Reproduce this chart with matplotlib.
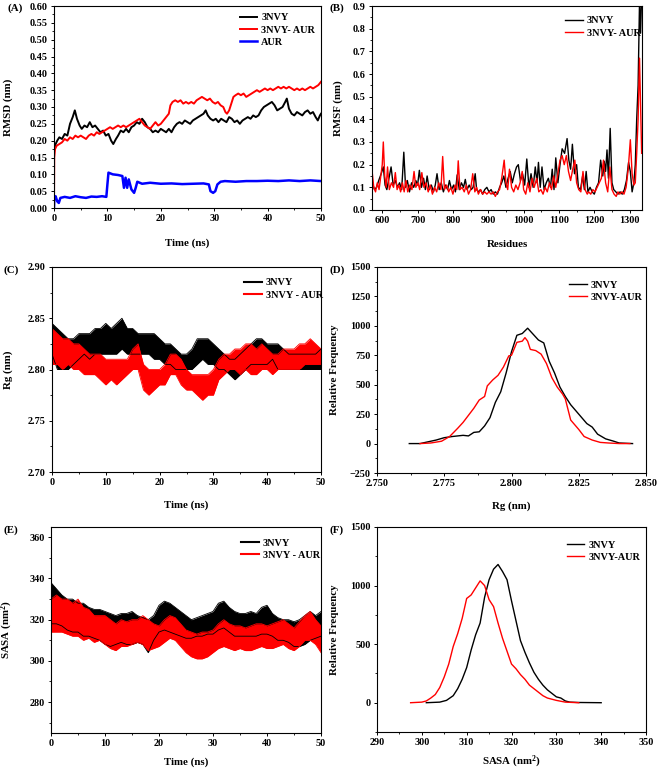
import numpy as np
import matplotlib
matplotlib.use("Agg")
import matplotlib.pyplot as plt
from matplotlib.ticker import AutoMinorLocator, MultipleLocator, FormatStrFormatter

plt.rcParams['font.family'] = ['Liberation Serif', 'DejaVu Serif']
plt.rcParams['font.weight'] = 'bold'
plt.rcParams['axes.labelweight'] = 'bold'
plt.rcParams['mathtext.fontset'] = 'custom'
plt.rcParams['mathtext.bf'] = 'Liberation Serif:bold'

# ---------------- (A) RMSD ----------------
t_rmsd_prot = [0, 0.3, 0.6, 1, 1.5, 2, 2.5, 3, 3.5, 3.9, 4.3, 4.8, 5.2, 5.7, 6.2, 6.7, 7.2, 7.7, 8.2, 8.7,
               9.2, 9.7, 10.2, 10.7, 11.1, 11.6, 12, 12.5, 13, 13.5, 14, 14.5, 15, 15.5, 16, 16.5, 17, 17.5,
               18, 18.5, 19, 19.5, 20, 20.5, 21, 21.5, 22, 22.5, 23, 23.5, 24, 24.5, 25, 25.5, 26, 26.5,
               27, 27.5, 28, 28.4, 28.8, 29.3, 29.8, 30.3, 30.8, 31.3, 31.8, 32.3, 32.8, 33.3, 33.8, 34.3,
               34.8, 35.3, 35.8, 36.3, 36.8, 37.3, 37.8, 38.3, 38.8, 39.3, 39.8, 40.3, 40.8, 41.3, 41.8,
               42.3, 42.8, 43.3, 43.6, 44, 44.5, 45, 45.5, 46, 46.5, 47, 47.5, 48, 48.5, 49, 49.4, 49.8, 50]
rmsd_prot = [0.17, 0.19, 0.20, 0.21, 0.205, 0.22, 0.215, 0.25, 0.27, 0.29, 0.265, 0.245, 0.235, 0.245, 0.24,
             0.255, 0.24, 0.245, 0.235, 0.225, 0.23, 0.215, 0.22, 0.20, 0.19, 0.205, 0.215, 0.23, 0.225,
             0.235, 0.225, 0.24, 0.245, 0.255, 0.25, 0.265, 0.255, 0.24, 0.235, 0.225, 0.23, 0.225, 0.235,
             0.23, 0.225, 0.235, 0.225, 0.24, 0.25, 0.255, 0.25, 0.26, 0.255, 0.25, 0.26, 0.265, 0.27,
             0.275, 0.28, 0.29, 0.275, 0.265, 0.26, 0.265, 0.255, 0.265, 0.26, 0.255, 0.27, 0.265, 0.255,
             0.26, 0.25, 0.26, 0.265, 0.27, 0.265, 0.275, 0.27, 0.275, 0.29, 0.30, 0.305, 0.31, 0.315,
             0.305, 0.29, 0.295, 0.30, 0.315, 0.325, 0.295, 0.28, 0.275, 0.285, 0.28, 0.275, 0.285, 0.29,
             0.28, 0.285, 0.27, 0.26, 0.275, 0.28]

t_rmsd_cplx = [0, 0.05, 0.2, 0.5, 1, 1.5, 2, 2.5, 3, 3.5, 4, 4.5, 5, 5.5, 6, 6.5, 7, 7.5, 8, 8.5, 9, 9.5,
               10, 10.5, 11, 11.5, 12, 12.5, 13, 13.5, 14, 14.5, 15, 15.5, 16, 16.5, 17, 17.5, 18, 18.5,
               19, 19.5, 20, 20.5, 21, 21.5, 21.8, 22.2, 22.7, 23.2, 23.7, 24.2, 24.7, 25.2, 25.7, 26.2,
               26.7, 27.2, 27.7, 28.2, 28.7, 29.2, 29.7, 30.2, 30.7, 31.2, 31.7, 32.1, 32.4, 32.8, 33.2,
               33.6, 34, 34.5, 35, 35.5, 36, 36.5, 37, 37.5, 38, 38.5, 39, 39.5, 40, 40.5, 41, 41.5, 42,
               42.5, 43, 43.5, 44, 44.5, 45, 45.5, 46, 46.5, 47, 47.5, 48, 48.5, 49, 49.5, 50]
rmsd_cplx = [0.0, 0.15, 0.175, 0.185, 0.19, 0.195, 0.205, 0.20, 0.21, 0.205, 0.215, 0.21, 0.215, 0.21,
             0.205, 0.215, 0.22, 0.215, 0.225, 0.22, 0.225, 0.23, 0.235, 0.24, 0.235, 0.24, 0.245, 0.24,
             0.245, 0.24, 0.245, 0.25, 0.255, 0.26, 0.265, 0.255, 0.245, 0.24, 0.235, 0.245, 0.255, 0.245,
             0.25, 0.26, 0.27, 0.28, 0.305, 0.315, 0.32, 0.315, 0.32, 0.31, 0.315, 0.31, 0.315, 0.31,
             0.32, 0.325, 0.33, 0.325, 0.32, 0.325, 0.315, 0.31, 0.315, 0.305, 0.30, 0.285, 0.28, 0.29,
             0.31, 0.33, 0.335, 0.34, 0.335, 0.34, 0.33, 0.335, 0.34, 0.345, 0.35, 0.345, 0.35, 0.355,
             0.35, 0.355, 0.35, 0.355, 0.36, 0.355, 0.36, 0.355, 0.36, 0.355, 0.35, 0.355, 0.35, 0.355,
             0.35, 0.355, 0.36, 0.355, 0.36, 0.365, 0.375]

t_rmsd_lig = [0, 0.05, 0.3, 0.6, 0.9, 1.2, 2, 3, 4, 5, 6, 7, 8, 9, 9.8, 10, 10.2, 11, 12, 12.8, 13.1, 13.4,
              13.7, 14, 14.5, 15, 15.3, 15.6, 16.5, 18, 20, 22, 24, 26, 28, 29, 29.3, 29.8, 30.2, 30.6,
              31.2, 32, 34, 36, 38, 40, 42, 44, 46, 48, 50]
rmsd_lig = [0.0, 0.025, 0.035, 0.02, 0.015, 0.03, 0.033, 0.03, 0.035, 0.032, 0.03, 0.034, 0.033, 0.035,
            0.033, 0.07, 0.105, 0.10, 0.098, 0.095, 0.06, 0.09, 0.06, 0.085, 0.055, 0.045, 0.06, 0.078,
            0.072, 0.075, 0.072, 0.073, 0.071, 0.072, 0.073, 0.07, 0.05, 0.045, 0.05, 0.07, 0.078, 0.08,
            0.078, 0.08, 0.08, 0.081, 0.08, 0.082, 0.08, 0.082, 0.08]

# ---------------- (B) RMSF ----------------
res_prot = [572, 578, 584, 590, 597, 603, 608, 613, 619, 625, 631, 637, 643, 649, 655, 661, 666, 671, 677,
            683, 689, 695, 700, 705, 711, 717, 722, 727, 733, 739, 745, 750, 755, 761, 767, 773, 779, 785,
            790, 796, 802, 807, 812, 818, 824, 830, 835, 840, 846, 852, 857, 863, 867, 872, 878, 884, 890,
            896, 902, 908, 914, 920, 926, 932, 938, 944, 950, 956, 962, 968, 974, 980, 985, 991, 997, 1003,
            1009, 1015, 1021, 1027, 1033, 1038, 1042, 1047, 1052, 1058, 1064, 1070, 1076, 1081, 1086, 1091,
            1097, 1103, 1109, 1116, 1123, 1128, 1133, 1138, 1144, 1150, 1155, 1161, 1167, 1172, 1177, 1182,
            1188, 1194, 1200, 1206, 1212, 1218, 1224, 1228, 1232, 1236, 1240, 1245, 1250, 1255, 1261, 1267,
            1273, 1279, 1285, 1291, 1297, 1302, 1307, 1312, 1316, 1320, 1324, 1328, 1331, 1334]
rmsf_prot = [0.12, 0.09, 0.10, 0.13, 0.16, 0.19, 0.11, 0.09, 0.14, 0.19, 0.11, 0.13, 0.10, 0.12, 0.09,
             0.255, 0.10, 0.13, 0.08, 0.12, 0.10, 0.13, 0.11, 0.175, 0.10, 0.14, 0.09, 0.15, 0.09, 0.11,
             0.08, 0.11, 0.16, 0.09, 0.12, 0.08, 0.11, 0.09, 0.13, 0.09, 0.11, 0.08, 0.155, 0.09, 0.12,
             0.10, 0.135, 0.09, 0.11, 0.09, 0.10, 0.16, 0.09, 0.08, 0.09, 0.07, 0.09, 0.10, 0.08, 0.09,
             0.07, 0.08, 0.07, 0.10, 0.12, 0.15, 0.10, 0.14, 0.17, 0.12, 0.16, 0.19, 0.20, 0.13, 0.16,
             0.11, 0.225, 0.10, 0.16, 0.10, 0.19, 0.12, 0.21, 0.10, 0.19, 0.09, 0.12, 0.14, 0.10, 0.18,
             0.09, 0.23, 0.12, 0.20, 0.27, 0.25, 0.315, 0.22, 0.18, 0.29, 0.16, 0.20, 0.10, 0.09, 0.15,
             0.09, 0.17, 0.08, 0.10, 0.08, 0.07, 0.10, 0.12, 0.22, 0.15, 0.215, 0.17, 0.265, 0.14, 0.36,
             0.12, 0.09, 0.08, 0.07, 0.08, 0.07, 0.09, 0.13, 0.21, 0.17, 0.08, 0.12, 0.20, 0.40, 0.55,
             0.92, 0.78, 0.95]

res_cplx = [572, 576, 581, 586, 591, 595, 600, 603, 607, 611, 615, 620, 626, 632, 637, 642, 647, 652, 657,
            662, 667, 672, 678, 684, 690, 695, 701, 706, 712, 718, 724, 730, 736, 742, 748, 754, 760, 766,
            771, 776, 782, 788, 794, 800, 806, 811, 815, 820, 826, 832, 838, 844, 850, 856, 862, 867, 872,
            878, 884, 890, 896, 902, 908, 914, 920, 926, 932, 938, 945, 950, 955, 960, 966, 972, 978, 984,
            990, 996, 1000, 1006, 1012, 1018, 1024, 1030, 1037, 1043, 1049, 1055, 1061, 1067, 1073, 1079,
            1085, 1091, 1097, 1103, 1109, 1115, 1121, 1127, 1133, 1139, 1145, 1150, 1156, 1162, 1168, 1174,
            1180, 1184, 1190, 1196, 1202, 1208, 1214, 1220, 1226, 1232, 1238, 1244, 1250, 1256, 1262, 1267,
            1272, 1278, 1284, 1290, 1296, 1302, 1307, 1312, 1316, 1320, 1324, 1328, 1331, 1334]
rmsf_cplx = [0.16, 0.10, 0.08, 0.12, 0.09, 0.14, 0.20, 0.30, 0.15, 0.10, 0.19, 0.09, 0.12, 0.10, 0.165,
             0.09, 0.11, 0.08, 0.12, 0.08, 0.13, 0.08, 0.11, 0.09, 0.17, 0.10, 0.12, 0.09, 0.165, 0.10,
             0.12, 0.08, 0.11, 0.07, 0.10, 0.08, 0.12, 0.09, 0.236, 0.09, 0.11, 0.08, 0.10, 0.07, 0.11,
             0.09, 0.217, 0.09, 0.10, 0.08, 0.11, 0.07, 0.09, 0.16, 0.08, 0.10, 0.07, 0.09, 0.07, 0.08,
             0.07, 0.08, 0.07, 0.08, 0.06, 0.08, 0.09, 0.14, 0.22, 0.12, 0.09, 0.18, 0.10, 0.08, 0.11,
             0.09, 0.12, 0.17, 0.09, 0.07, 0.12, 0.08, 0.14, 0.10, 0.14, 0.08, 0.09, 0.07, 0.10, 0.08,
             0.12, 0.09, 0.15, 0.10, 0.16, 0.22, 0.24, 0.20, 0.24, 0.17, 0.13, 0.18, 0.22, 0.12, 0.09,
             0.08, 0.17, 0.09, 0.07, 0.08, 0.07, 0.09, 0.08, 0.10, 0.12, 0.14, 0.22, 0.12, 0.08, 0.19,
             0.09, 0.07, 0.06, 0.08, 0.07, 0.08, 0.07, 0.10, 0.18, 0.31, 0.16, 0.11, 0.12, 0.25, 0.40,
             0.67, 0.45, 0.25]

# ---------------- (C) Rg vs time (band limits, 1 ns) ----------------
t_ns = list(range(0, 51))
rg_prot_lo = [2.815, 2.80, 2.80, 2.80, 2.805, 2.81, 2.815, 2.81, 2.815, 2.815, 2.815, 2.815, 2.815, 2.82,
              2.815, 2.815, 2.815, 2.815, 2.815, 2.81, 2.81, 2.805, 2.805, 2.80, 2.80, 2.80, 2.80, 2.805,
              2.81, 2.805, 2.805, 2.80, 2.80, 2.795, 2.79, 2.795, 2.80, 2.805, 2.805, 2.805, 2.805, 2.81,
              2.80, 2.80, 2.80, 2.80, 2.80, 2.80, 2.80, 2.80, 2.80]
rg_prot_hi = [2.845, 2.84, 2.835, 2.83, 2.83, 2.835, 2.835, 2.835, 2.84, 2.84, 2.845, 2.84, 2.845, 2.85,
              2.84, 2.84, 2.835, 2.835, 2.835, 2.835, 2.83, 2.825, 2.825, 2.82, 2.815, 2.815, 2.82, 2.83,
              2.83, 2.83, 2.825, 2.82, 2.815, 2.81, 2.81, 2.815, 2.82, 2.825, 2.83, 2.83, 2.825, 2.825,
              2.825, 2.82, 2.815, 2.815, 2.815, 2.815, 2.815, 2.815, 2.82]
rg_cplx_lo = [2.805, 2.805, 2.80, 2.805, 2.80, 2.80, 2.795, 2.795, 2.795, 2.79, 2.785, 2.79, 2.785, 2.79,
              2.795, 2.80, 2.80, 2.78, 2.775, 2.78, 2.785, 2.785, 2.795, 2.795, 2.785, 2.78, 2.78, 2.775,
              2.77, 2.775, 2.775, 2.79, 2.795, 2.80, 2.80, 2.795, 2.80, 2.795, 2.795, 2.80, 2.80, 2.795,
              2.80, 2.80, 2.80, 2.80, 2.80, 2.805, 2.805, 2.805, 2.805]
rg_cplx_hi = [2.84, 2.835, 2.83, 2.83, 2.825, 2.825, 2.82, 2.815, 2.815, 2.815, 2.81, 2.81, 2.81, 2.81,
              2.81, 2.82, 2.825, 2.805, 2.80, 2.80, 2.80, 2.805, 2.815, 2.815, 2.81, 2.80, 2.795, 2.795,
              2.795, 2.795, 2.80, 2.81, 2.815, 2.815, 2.82, 2.82, 2.825, 2.825, 2.82, 2.825, 2.82, 2.815,
              2.815, 2.82, 2.82, 2.82, 2.825, 2.825, 2.83, 2.825, 2.82]

# ---------------- (D) Rg distribution ----------------
rg_bins_prot = [2.762, 2.766, 2.770, 2.772, 2.775, 2.778, 2.780, 2.782, 2.784, 2.786, 2.788, 2.790, 2.792,
                2.794, 2.796, 2.798, 2.800, 2.802, 2.804, 2.806, 2.808, 2.810, 2.812, 2.814, 2.816, 2.818,
                2.820, 2.822, 2.825, 2.828, 2.830, 2.832, 2.835, 2.838, 2.840, 2.845]
rg_freq_prot = [0, 0, 20, 30, 50, 60, 65, 70, 65, 95, 100, 150, 220, 350, 440, 600, 780, 920, 935, 980,
                930, 880, 855, 700, 600, 480, 400, 330, 250, 170, 140, 80, 40, 20, 5, 0]
rg_bins_cplx = [2.766, 2.770, 2.774, 2.777, 2.780, 2.782, 2.784, 2.786, 2.788, 2.790, 2.791, 2.793, 2.795,
                2.797, 2.799, 2.800, 2.802, 2.804, 2.805, 2.806, 2.807, 2.809, 2.811, 2.813, 2.815, 2.817,
                2.819, 2.820, 2.822, 2.825, 2.827, 2.830, 2.833, 2.836, 2.840, 2.844]
rg_freq_cplx = [0, 5, 20, 60, 130, 180, 240, 300, 370, 400, 490, 540, 580, 650, 745, 750, 860, 870, 900,
                870, 800, 790, 760, 680, 560, 480, 420, 380, 200, 120, 60, 30, 10, 5, 0, 0]

# ---------------- (E) SASA vs time (band limits, 1 ns) ----------------
sasa_prot_lo = [318, 318, 317, 315, 314, 314, 312, 312, 311, 310, 308, 307, 308, 309, 308, 308, 309, 308,
                304, 310, 314, 315, 314, 313, 312, 311, 311, 312, 312, 313, 313, 315, 316, 314, 312, 312,
                312, 312, 312, 313, 313, 312, 310, 310, 309, 307, 307, 308, 310, 311, 312]
sasa_prot_hi = [338, 335, 332, 330, 330, 328, 328, 326, 325, 325, 324, 323, 322, 323, 323, 324, 322, 321,
                320, 322, 327, 329, 328, 326, 324, 322, 320, 321, 322, 323, 324, 328, 329, 326, 324, 323,
                323, 324, 323, 326, 327, 323, 321, 320, 320, 319, 320, 322, 324, 322, 324]
sasa_cplx_lo = [314, 314, 314, 313, 312, 312, 310, 311, 309, 310, 308, 306, 305, 307, 307, 308, 309, 308,
                305, 306, 307, 309, 311, 310, 307, 304, 302, 301, 301, 302, 304, 306, 307, 306, 305, 306,
                305, 305, 306, 307, 306, 306, 307, 308, 306, 305, 307, 310, 310, 308, 304]
sasa_cplx_hi = [330, 332, 330, 330, 328, 330, 326, 325, 322, 322, 322, 320, 318, 320, 319, 320, 320, 322,
                320, 318, 317, 320, 322, 321, 318, 315, 314, 313, 314, 314, 315, 318, 320, 318, 317, 317,
                316, 317, 318, 318, 317, 318, 319, 320, 318, 316, 319, 322, 324, 320, 317]

# ---------------- (F) SASA distribution ----------------
sasa_bins_prot = [301, 304, 305.5, 307, 308, 309, 310, 311, 312, 313, 314, 315, 316, 317, 318, 319, 320,
                  321, 322, 323, 324, 325, 326, 327, 328, 329, 330, 331, 332, 333, 335, 340]
sasa_freq_prot = [0, 5, 20, 60, 120, 200, 300, 450, 580, 680, 900, 1050, 1140, 1180, 1120, 1050, 870, 700,
                  530, 430, 340, 260, 200, 150, 110, 80, 50, 40, 15, 5, 2, 0]
sasa_bins_cplx = [297.5, 300, 301, 302, 303, 304, 305, 306, 307, 308, 309, 310, 311, 312, 313, 314, 315,
                  316, 317, 318, 319, 320, 321, 322, 323, 324, 325, 326, 327, 328, 330, 332, 335]
sasa_freq_cplx = [0, 5, 15, 40, 70, 130, 220, 330, 480, 590, 720, 890, 920, 980, 1040, 1000, 880, 820,
                  680, 550, 440, 330, 290, 240, 200, 150, 120, 90, 60, 40, 20, 5, 0]

W, H = 661, 771
fig = plt.figure(figsize=(W / 100, H / 100), dpi=100)


def make_ax(l, t, r, b):
    # pixel box -> figure fractions
    return fig.add_axes([l / W, 1 - b / H, (r - l) / W, (b - t) / H])


def style(ax, xlabel, ylabel, xl, yl):
    for s in ax.spines.values():
        s.set_linewidth(0.8)
    ax.tick_params(direction='out', length=2.5, width=0.7, labelsize=7.3, pad=2)
    ax.tick_params(which='minor', direction='out', length=1.5, width=0.6)
    ax.xaxis.set_minor_locator(AutoMinorLocator(2))
    ax.yaxis.set_minor_locator(AutoMinorLocator(2))
    ax.set_xlabel(xlabel, fontsize=7.8, fontweight='bold')
    ax.set_ylabel(ylabel, fontsize=7.8, fontweight='bold')
    ax.xaxis.set_label_coords(0.5, xl)
    ax.yaxis.set_label_coords(yl, 0.5)
    for lab in ax.get_xticklabels() + ax.get_yticklabels():
        lab.set_fontweight('bold')


def leg(ax, x, y):
    ax.legend(loc='upper left', bbox_to_anchor=(x, y), frameon=False, fontsize=7.4,
              handlelength=1.7, handletextpad=0.4, labelspacing=0.3, borderaxespad=0)


def band(ax, t, lo, hi, color, label):
    ax.fill_between(t, lo, hi, color=color, lw=0)
    ax.plot(t, lo, color=color, lw=0.6)
    ax.plot(t, hi, color=color, lw=0.6)
    ax.plot([], [], color=color, lw=1.5, label=label)


# (A)
axA = make_ax(54, 6, 321, 208)
axA.plot(t_rmsd_prot, rmsd_prot, color='black', lw=1.4, label='3NVY')
axA.plot(t_rmsd_cplx, rmsd_cplx, color='red', lw=1.4, label='3NVY- AUR')
axA.plot(t_rmsd_lig, rmsd_lig, color='blue', lw=1.8, label='AUR')
axA.set_xlim(0, 50)
axA.set_ylim(0, 0.60)
axA.xaxis.set_major_locator(MultipleLocator(10))
axA.yaxis.set_major_locator(MultipleLocator(0.05))
axA.yaxis.set_major_formatter(FormatStrFormatter('%.2f'))
style(axA, 'Time (ns)', 'RMSD (nm)', -0.15, -0.155)
leg(axA, 0.68, 0.985)

# (B)
axB = make_ax(372, 6, 642, 210)
axB.plot(res_prot, rmsf_prot, color='black', lw=1.0, label='3NVY')
axB.plot(res_cplx, rmsf_cplx, color='red', lw=1.0, label='3NVY- AUR')
axB.set_xlim(571, 1335)
axB.set_ylim(0, 0.9)
axB.xaxis.set_major_locator(MultipleLocator(100))
axB.yaxis.set_major_locator(MultipleLocator(0.1))
axB.yaxis.set_major_formatter(FormatStrFormatter('%.1f'))
style(axB, 'Residues', 'RMSF (nm)', -0.145, -0.108)
leg(axB, 0.70, 0.97)

# (C)
axC = make_ax(52, 267, 321, 472)
band(axC, t_ns, rg_prot_lo, rg_prot_hi, 'black', '3NVY')
band(axC, t_ns, rg_cplx_lo, rg_cplx_hi, 'red', '3NVY - AUR')
axC.set_xlim(0, 50)
axC.set_ylim(2.70, 2.90)
axC.xaxis.set_major_locator(MultipleLocator(10))
axC.yaxis.set_major_locator(MultipleLocator(0.05))
axC.yaxis.set_major_formatter(FormatStrFormatter('%.2f'))
style(axC, 'Time (ns)', 'Rg (nm)', -0.137, -0.145)
leg(axC, 0.70, 0.965)

# (D)
axD = make_ax(377, 267, 646, 473)
axD.plot(rg_bins_prot, rg_freq_prot, color='black', lw=1.0, label='3NVY')
axD.plot(rg_bins_cplx, rg_freq_cplx, color='red', lw=1.0, label='3NVY-AUR')
axD.set_xlim(2.750, 2.850)
axD.set_ylim(-250, 1500)
axD.xaxis.set_major_locator(MultipleLocator(0.025))
axD.yaxis.set_major_locator(MultipleLocator(250))
axD.xaxis.set_major_formatter(FormatStrFormatter('%.3f'))
style(axD, 'Rg (nm)', 'Relative Frequency', -0.14, -0.14)
leg(axD, 0.70, 0.955)

# (E)
axE = make_ax(51, 527, 321, 733)
band(axE, t_ns, sasa_prot_lo, sasa_prot_hi, 'black', '3NVY')
band(axE, t_ns, sasa_cplx_lo, sasa_cplx_hi, 'red', '3NVY - AUR')
axE.set_xlim(0, 50)
axE.set_ylim(265, 365)
axE.xaxis.set_major_locator(MultipleLocator(10))
axE.yaxis.set_major_locator(MultipleLocator(20))
style(axE, 'Time (ns)', r'SASA (nm$\mathbf{^2}$)', -0.118, -0.132)
leg(axE, 0.69, 0.965)

# (F)
axF = make_ax(377, 527, 646, 732)
axF.plot(sasa_bins_prot, sasa_freq_prot, color='black', lw=1.0, label='3NVY')
axF.plot(sasa_bins_cplx, sasa_freq_cplx, color='red', lw=1.0, label='3NVY-AUR')
axF.set_xlim(290, 350)
axF.set_ylim(-250, 1500)
axF.xaxis.set_major_locator(MultipleLocator(10))
axF.yaxis.set_major_locator(MultipleLocator(500))
style(axF, r'SASA (nm$\mathbf{^2}$)', 'Relative Frequency', -0.105, -0.14)
leg(axF, 0.69, 0.955)

for lab, x, y in [('(A)', 7, 8), ('(B)', 330, 8), ('(C)', 4, 270), ('(D)', 330, 270),
                  ('(E)', 3, 530), ('(F)', 330, 530)]:
    fig.text(x / W, 1 - y / H, lab, fontsize=7.8, fontweight='bold', ha='left', va='center')

fig.savefig('out.png', dpi=100)
